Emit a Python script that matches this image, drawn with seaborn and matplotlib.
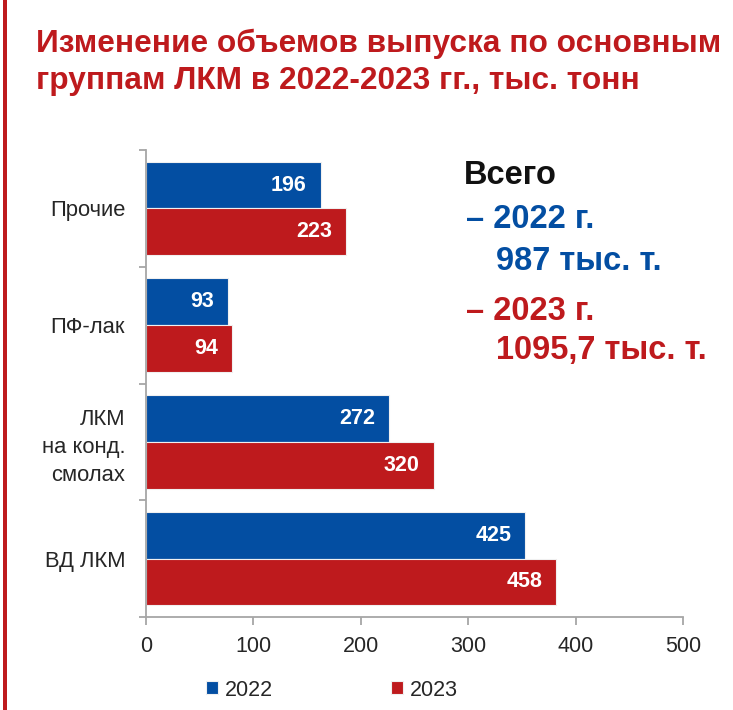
import matplotlib
matplotlib.use("Agg")
import matplotlib.pyplot as plt
from matplotlib.patches import Rectangle
import seaborn as sns
import pandas as pd

# ---- data ----
categories = ["Прочие", "ПФ-лак", "ЛКМ\nна конд.\nсмолах", "ВД ЛКМ"]
years = ["2022", "2023"]
bars_2022 = [162.6, 76.6, 226.3, 353.2]   # bar lengths as drawn
bars_2023 = [186.5, 79.8, 267.9, 382.0]
labels_2022 = ["196", "93", "272", "425"]  # printed values
labels_2023 = ["223", "94", "320", "458"]
x_ticks = [0, 100, 200, 300, 400, 500]
title = "Изменение объемов выпуска по основным\nгруппам ЛКМ в 2022-2023 гг., тыс. тонн"
total_head = "Всего"
total_2022 = ["– 2022 г.", "987 тыс. т."]
total_2023 = ["– 2023 г.", "1095,7 тыс. т."]

BLUE = "#034EA2"
RED = "#BE1A1D"
TXT = "#262626"
SPINE = "#A6A6A6"

sns.set_theme(style="white")
plt.rcParams["font.family"] = ["Liberation Sans", "DejaVu Sans"]

df = pd.DataFrame({
    "cat": categories * 2,
    "year": [years[0]] * 4 + [years[1]] * 4,
    "val": bars_2022 + bars_2023,
})

fig = plt.figure(figsize=(7.33, 7.10), dpi=100)
ax = fig.add_axes([146 / 733, 1 - 617 / 710, 537 / 733, 467 / 710])

sns.barplot(data=df, y="cat", x="val", hue="year", orient="h",
            palette={years[0]: BLUE, years[1]: RED}, order=categories,
            hue_order=years, width=0.8, saturation=1, edgecolor="#f0f0f0",
            linewidth=0.8, ax=ax, legend=True)

handles, lbls = ax.get_legend_handles_labels()
ax.get_legend().remove()

ax.set_xlim(0, 500)
ax.set_ylim(3.5, -0.5)
ax.set_xlabel("")
ax.set_ylabel("")
ax.set_xticks(x_ticks)
ax.set_xticklabels([str(t) for t in x_ticks])
for s in ["top", "right"]:
    ax.spines[s].set_visible(False)
for s in ["left", "bottom"]:
    ax.spines[s].set_color(SPINE)
    ax.spines[s].set_linewidth(1.3)

ax.tick_params(axis="x", which="major", length=6, width=1.3, color=SPINE,
               direction="out", bottom=True, labelsize=15.5, labelcolor=TXT, pad=8)
ax.tick_params(axis="y", which="major", length=0, labelsize=15.8,
               labelcolor=TXT, pad=15)
ax.set_yticks([-0.5, 0.5, 1.5, 2.5, 3.5], minor=True)
ax.tick_params(axis="y", which="minor", length=5, width=1.3, color=SPINE,
               direction="out", left=True)
for t in ax.get_yticklabels():
    t.set_linespacing(1.43)

# value labels inside bars
for cont, labs in zip(ax.containers, [labels_2022, labels_2023]):
    for patch, lab in zip(cont.patches, labs):
        ax.annotate(lab, (patch.get_x() + patch.get_width(),
                          patch.get_y() + patch.get_height() / 2),
                    xytext=(-14, 0), textcoords="offset pixels",
                    ha="right", va="center", color="white",
                    fontsize=15.5, fontweight="bold")

# title
fig.text(36 / 733, 1 - 62 / 710, title, color=RED, fontsize=22.8,
         fontweight="bold", ha="left", va="center", linespacing=1.3)

# totals block
fs_tot = 23.5
fig.text(464 / 733, 1 - 176 / 710, total_head, color="#111111", fontsize=fs_tot,
         fontweight="bold", ha="left", va="center")
fig.text(466 / 733, 1 - 220 / 710, total_2022[0], color=BLUE, fontsize=fs_tot,
         fontweight="bold", ha="left", va="center")
fig.text(496 / 733, 1 - 262 / 710, total_2022[1], color=BLUE, fontsize=fs_tot,
         fontweight="bold", ha="left", va="center")
fig.text(466 / 733, 1 - 311 / 710, total_2023[0], color=RED, fontsize=fs_tot,
         fontweight="bold", ha="left", va="center")
fig.text(496 / 733, 1 - 350 / 710, total_2023[1], color=RED, fontsize=fs_tot,
         fontweight="bold", ha="left", va="center")

# legend
fig.legend(handles, lbls, loc="center", bbox_to_anchor=(332 / 733, 1 - 690 / 710),
           ncol=2, frameon=False, fontsize=15.5, labelcolor=TXT,
           handlelength=0.55, handleheight=0.55, handletextpad=0.3,
           columnspacing=5.5)

# red strip at the left edge
fig.patches.append(Rectangle((3 / 733, 0), 4 / 733, 1, transform=fig.transFigure,
                             facecolor=RED, edgecolor="none", figure=fig))

fig.savefig("out.png", dpi=100, facecolor="white")
